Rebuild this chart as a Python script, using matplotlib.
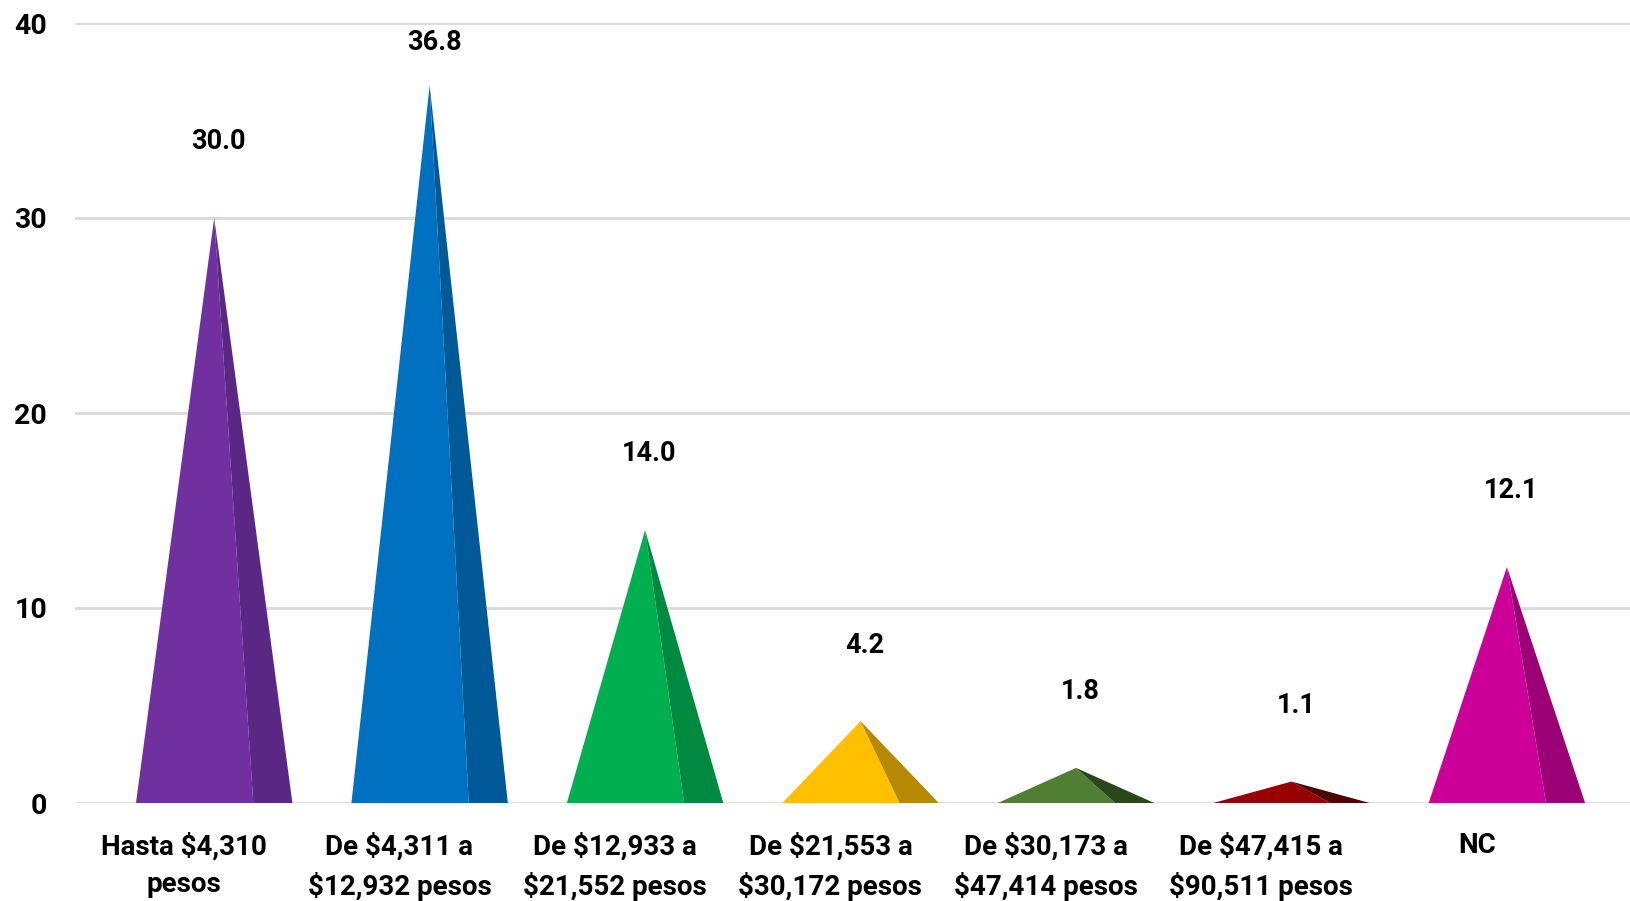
import matplotlib
matplotlib.use("Agg")
import matplotlib.pyplot as plt

plt.rcParams['text.parse_math'] = False
plt.rcParams['font.family'] = ['Roboto', 'DejaVu Sans']

categories = ["Hasta $4,310\npesos", "De $4,311 a\n$12,932 pesos", "De $12,933 a\n$21,552 pesos",
              "De $21,553 a\n$30,172 pesos", "De $30,173 a\n$47,414 pesos", "De $47,415 a\n$90,511 pesos",
              "NC"]
values = [30.0, 36.8, 14.0, 4.2, 1.8, 1.1, 12.1]
front_colors = ["#7030A0", "#0070C0", "#00B050", "#FFC000", "#507E32", "#990000", "#CC0099"]
side_colors = ["#5A2884", "#005A98", "#008A40", "#B58900", "#2A4719", "#4E0000", "#9C0077"]

fig = plt.figure(figsize=(16.31, 9.01), dpi=100)
ax = fig.add_axes([75 / 1631, 1 - 803 / 901, 1 - 75 / 1631, (803 - 23) / 901])

half = 0.363   # half base width of a pyramid, in category units
label_shift = -0.14  # category text sits a bit left of the pyramid (front of the 3d floor)

for i, (v, fc, sc) in enumerate(zip(values, front_colors, side_colors)):
    left, right = i - half, i + half
    front = left + 0.75 * (right - left)
    ax.fill([left, i, front], [0, v, 0], color=fc, lw=0, zorder=3)
    ax.fill([front, i, right], [0, v, 0], color=sc, lw=0, zorder=3)
    ax.text(i + 0.02, min(v + 3.9, 39.0), f"{v:.1f}", ha='center', va='center',
            fontsize=19.5, fontweight='bold', color='black', zorder=4)

ax.set_xlim(-0.646, 6.576)
ax.set_ylim(0, 40)
ax.set_yticks([0, 10, 20, 30, 40])
ax.set_xticks([i + label_shift for i in range(len(categories))])
ax.set_xticklabels(categories, fontsize=20, fontweight='bold', linespacing=1.5)
for lab in ax.get_yticklabels():
    lab.set_fontsize(20.5)
    lab.set_fontweight('bold')
ax.tick_params(axis='both', length=0)
ax.tick_params(axis='x', pad=21)
ax.tick_params(axis='y', pad=20)

ax.grid(axis='y', color='#D9D9D9', lw=2, zorder=0)
for s in ax.spines.values():
    s.set_visible(False)

fig.savefig("out.png", dpi=100, facecolor='white')
